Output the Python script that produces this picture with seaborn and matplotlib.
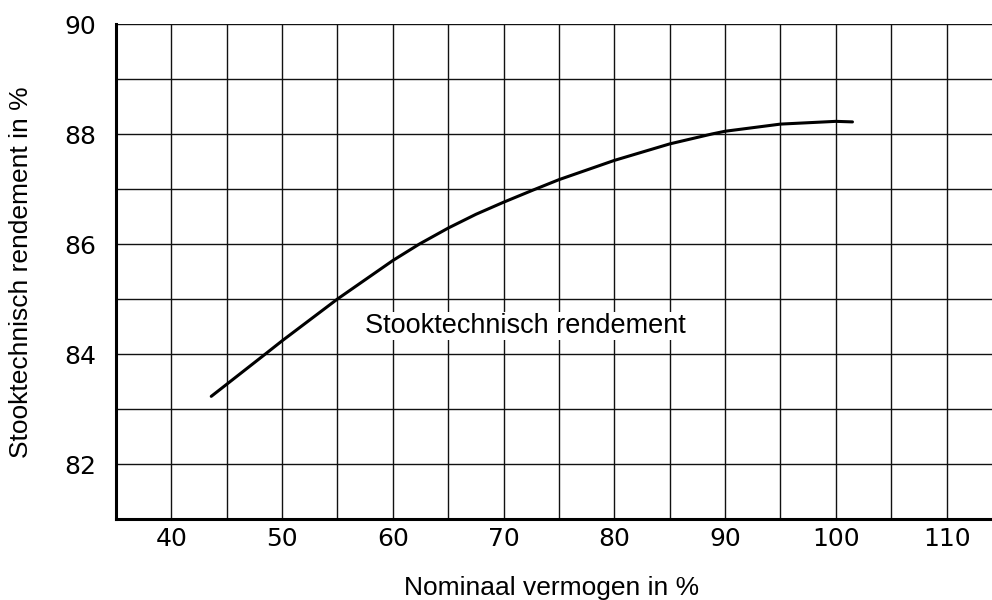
import matplotlib
matplotlib.use("Agg")
import matplotlib.pyplot as plt
import seaborn as sns
import pandas as pd

# Data
load_pct = [43.6, 45, 48.3, 50, 55, 60, 62.4, 65, 67.5, 70, 72.65, 75, 80, 85, 88.8, 90, 95, 100, 101.5]
efficiency = [83.23, 83.45, 83.97, 84.24, 85.0, 85.70, 86.0, 86.29, 86.54, 86.76, 86.98, 87.17, 87.52, 87.82, 88.0, 88.05, 88.18, 88.23, 88.22]
x_ticks = [40, 50, 60, 70, 80, 90, 100, 110]
y_ticks = [82, 84, 86, 88, 90]
series_label = "Stooktechnisch rendement"
x_label = "Nominaal vermogen in %"
y_label = "Stooktechnisch rendement in %"

df = pd.DataFrame({"x": load_pct, "y": efficiency})

sns.set_style("white")
plt.rcParams['font.family'] = ['Liberation Sans', 'DejaVu Sans']
plt.rcParams['text.color'] = 'black'
plt.rcParams['axes.labelcolor'] = 'black'
plt.rcParams['xtick.color'] = 'black'
plt.rcParams['ytick.color'] = 'black'

fig = plt.figure(figsize=(9.92, 6.0), dpi=100)
ax = fig.add_axes([116/992, 1 - 519/600, 1 - 116/992, (519 - 24)/600])

sns.lineplot(data=df, x="x", y="y", ax=ax, color="black", linewidth=2.2, sort=True)

ax.set_xlim(35, 114.1)
ax.set_ylim(81, 90)

# grid lines
for gx in range(40, 115, 5):
    ax.axvline(gx, color="#111111", linewidth=1.0, zorder=0)
for gy in range(82, 91, 1):
    ax.axhline(gy, color="#111111", linewidth=1.0, zorder=0)

ax.set_xticks(x_ticks)
ax.set_xticklabels([str(t) for t in x_ticks], fontsize=18, family=['DejaVu Sans'])
ax.set_yticks(y_ticks)
ax.set_yticklabels([str(t) for t in y_ticks], fontsize=18, family=['DejaVu Sans'])
ax.tick_params(axis="x", length=0, pad=6, colors="black")
ax.tick_params(axis="y", length=0, pad=14, colors="black")

for s in ["top", "right"]:
    ax.spines[s].set_visible(False)
ax.spines["left"].set_linewidth(2.2)
ax.spines["bottom"].set_linewidth(2.2)
ax.spines["left"].set_color("black")
ax.spines["bottom"].set_color("black")

ax.set_xlabel(x_label, fontsize=19, va="baseline")
ax.set_ylabel(y_label, fontsize=19, va="center")
ax.xaxis.set_label_coords((551.5 - 116) / 876, -(595 - 519) / 495)
ax.yaxis.set_label_coords(-(116 - 21) / 876, (519 - 272) / 495)

ax.text(57.49, 84.38, series_label, fontsize=19.5, va="baseline", ha="left",
        bbox=dict(facecolor="white", edgecolor="none", pad=1))

fig.savefig("out.png", dpi=100)
